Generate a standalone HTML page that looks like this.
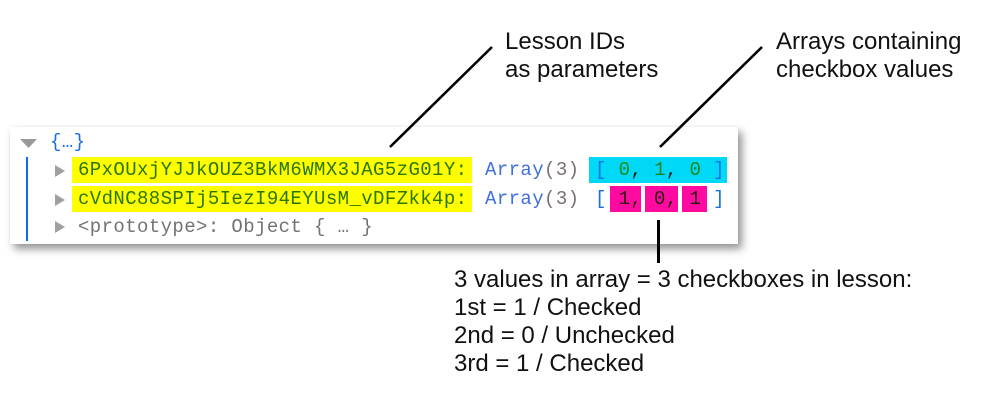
<!DOCTYPE html>
<html>
<head>
<meta charset="utf-8">
<style>
  html,body{margin:0;padding:0;background:#fff;}
  body{width:999px;height:400px;position:relative;overflow:hidden;}
  .panel{position:absolute;left:10px;top:127px;width:728px;height:117px;background:#fff;
    box-shadow:4px 5px 8px rgba(0,0,0,0.42), 0 0 2px rgba(0,0,0,0.06);}
  .mono{position:absolute;font-family:"Liberation Mono",monospace;font-size:19px;letter-spacing:0.4px;line-height:26px;height:26px;white-space:pre;}
  .lbl{position:absolute;font-family:"Liberation Sans",sans-serif;font-size:24px;line-height:28px;color:#111;white-space:pre;}
  .box{position:absolute;}
  .key{color:#2a7600;}
  .blue{color:#1a6fe0;}
  .arr{color:#3f6fdc;}
  .gray{color:#7a7070;}
  .grn{color:#17881a;}
  .dk{color:#2a1a10;}
</style>
</head>
<body>
<div class="panel"></div>

<!-- highlight boxes -->
<div class="box" style="left:72px;top:157px;width:400px;height:26px;background:#ffff00;"></div>
<div class="box" style="left:72px;top:186px;width:400px;height:26px;background:#ffff00;"></div>
<div class="box" style="left:589px;top:157px;width:138px;height:26px;background:#00d8f8;"></div>
<div class="box" style="left:610px;top:186px;width:31px;height:26px;background:#ff0aa0;"></div>
<div class="box" style="left:645px;top:186px;width:33px;height:26px;background:#ff0aa0;"></div>
<div class="box" style="left:682px;top:186px;width:25px;height:26px;background:#ff0aa0;"></div>

<svg width="999" height="400" style="position:absolute;left:0;top:0;">
  <polygon points="20,139 37,139 28.5,148" fill="#9a9a9a"/>
  <polygon points="55,165 55,177 65,171" fill="#a0a0a0"/>
  <polygon points="55,194 55,206 65,200" fill="#a0a0a0"/>
  <polygon points="55,221 55,233 65,227" fill="#a0a0a0"/>
  <rect x="26" y="157" width="2" height="84" fill="#0a6ee6"/>
  <line x1="390" y1="147" x2="492" y2="47" stroke="#000" stroke-width="2.6"/>
  <line x1="660" y1="147" x2="762" y2="47" stroke="#000" stroke-width="2.6"/>
  <line x1="658.5" y1="220" x2="658.5" y2="263" stroke="#000" stroke-width="3"/>
</svg>

<div class="mono blue" style="left:50px;top:129px;">{…}</div>

<div class="mono key" style="left:78px;top:157px;">6PxOUxjYJJkOUZ3BkM6WMX3JAG5zG01Y:</div>
<div class="mono" style="left:485px;top:157px;"><span class="arr">Array</span><span class="gray">(3)</span></div>
<div class="mono" style="left:595px;top:157px;"><span class="blue">[</span> <span class="grn">0</span><span class="dk">,</span> <span class="grn">1</span><span class="dk">,</span> <span class="grn">0</span> <span class="blue">]</span></div>

<div class="mono key" style="left:78px;top:186px;">cVdNC88SPIj5IezI94EYUsM_vDFZkk4p:</div>
<div class="mono" style="left:485px;top:186px;"><span class="arr">Array</span><span class="gray">(3)</span></div>
<div class="mono" style="left:595px;top:186px;"><span class="blue">[</span> <span class="dk">1,</span> <span class="dk">0,</span> <span class="dk">1</span> <span class="blue">]</span></div>

<div class="mono" style="left:78px;top:214px;color:#737373;">&lt;prototype&gt;: Object { … }</div>

<div class="lbl" style="left:505px;top:28px;">Lesson IDs<br>as parameters</div>
<div class="lbl" style="left:776px;top:28px;">Arrays containing<br>checkbox values</div>
<div class="lbl" style="left:454px;top:266px;">3 values in array = 3 checkboxes in lesson:<br>1st = 1 / Checked<br>2nd = 0 / Unchecked<br>3rd = 1 / Checked</div>
</body>
</html>
